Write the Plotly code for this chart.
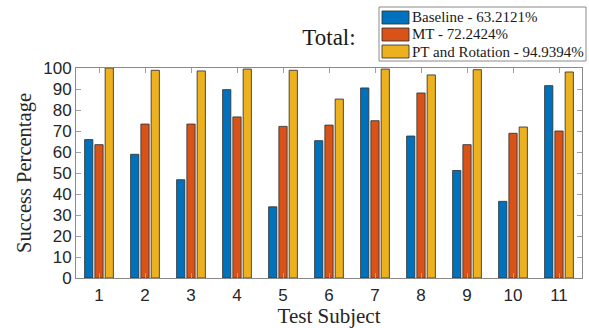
import plotly.graph_objects as go

# Success percentage per test subject for each method
subjects = [1, 2, 3, 4, 5, 6, 7, 8, 9, 10, 11]
baseline = [65.9, 58.9, 46.8, 89.7, 33.9, 65.4, 90.5, 67.6, 51.2, 36.5, 91.6]
mt = [63.5, 73.3, 73.3, 76.7, 72.2, 72.8, 74.9, 88.1, 63.5, 68.9, 70.0]
pt_rotation = [100.0, 98.9, 98.6, 99.5, 98.9, 85.2, 99.5, 96.7, 99.2, 71.9, 98.1]

series_names = ["Baseline - 63.2121%", "MT - 72.2424%", "PT and Rotation - 94.9394%"]
series_values = [baseline, mt, pt_rotation]
series_colors = ["#0072BD", "#D95319", "#EDB120"]

y_ticks = list(range(0, 101, 10))

serif = "Liberation Serif, Times New Roman, serif"
sans = "Liberation Sans, Arial, sans-serif"
edge = "rgba(50,50,50,0.85)"

# Figure geometry (pixels) used to place the boxed legend above the axes
W, H = 589, 328
ML, MR, MT_, MB = 76, 7, 68, 50
PW, PH = W - ML - MR, H - MT_ - MB


def px_x(px):
    return (px - ML) / PW


def px_y(py):
    return (H - MB - py) / PH


fig = go.Figure()
for name, vals, color in zip(series_names, series_values, series_colors):
    fig.add_trace(go.Bar(
        x=subjects, y=vals, name=name,
        marker=dict(color=color, line=dict(color=edge, width=1)),
    ))

# Boxed legend: frame, colour swatches and labels
shapes = [dict(type="rect", xref="paper", yref="paper",
               x0=px_x(379), x1=px_x(586), y0=px_y(61), y1=px_y(7),
               line=dict(color="#8a8a8a", width=1), fillcolor="white", layer="above")]
annotations = []
for i, (name, color) in enumerate(zip(series_names, series_colors)):
    top = 11 + i * 17
    shapes.append(dict(type="rect", xref="paper", yref="paper",
                       x0=px_x(382), x1=px_x(409), y0=px_y(top + 13), y1=px_y(top),
                       line=dict(color=edge, width=1), fillcolor=color, layer="above"))
    annotations.append(dict(xref="paper", yref="paper", x=px_x(410), y=px_y(top + 6.5),
                            xanchor="left", yanchor="middle", showarrow=False, text=name,
                            font=dict(family=serif, size=15, color="#1a1a1a")))

fig.update_layout(
    width=W, height=H,
    margin=dict(l=ML, r=MR, t=MT_, b=MB, autoexpand=False),
    paper_bgcolor="white", plot_bgcolor="white",
    barmode="group", bargap=0.33, bargroupgap=0.2,
    title=dict(text="Total:", x=0.5, xref="paper", xanchor="center",
               y=1 - 37 / H, yref="container", yanchor="middle",
               font=dict(family=serif, size=23, color="#1a1a1a")),
    showlegend=False,
    shapes=shapes, annotations=annotations,
    xaxis=dict(
        range=[0.5, 11.5], tickmode="array", tickvals=subjects,
        ticktext=[str(s) for s in subjects], automargin=False,
        ticks="inside", ticklen=5, tickcolor="#a0a0a0",
        showline=True, linecolor="#8a8a8a", linewidth=1, mirror="ticks",
        showgrid=False, zeroline=False, ticklabelstandoff=2,
        tickfont=dict(family=sans, size=17, color="#262626"),
        title=dict(text="Test Subject", standoff=5,
                   font=dict(family=serif, size=21, color="#262626")),
    ),
    yaxis=dict(
        range=[0, 100], tickmode="array", tickvals=y_ticks, automargin=False,
        ticks="inside", ticklen=5, tickcolor="#a0a0a0",
        showline=True, linecolor="#8a8a8a", linewidth=1, mirror="ticks",
        showgrid=False, zeroline=False,
        tickfont=dict(family=sans, size=17, color="#262626"),
        title=dict(text="Success Percentage", standoff=6,
                   font=dict(family=serif, size=20.5, color="#262626")),
    ),
)

fig.write_html("out.html")
